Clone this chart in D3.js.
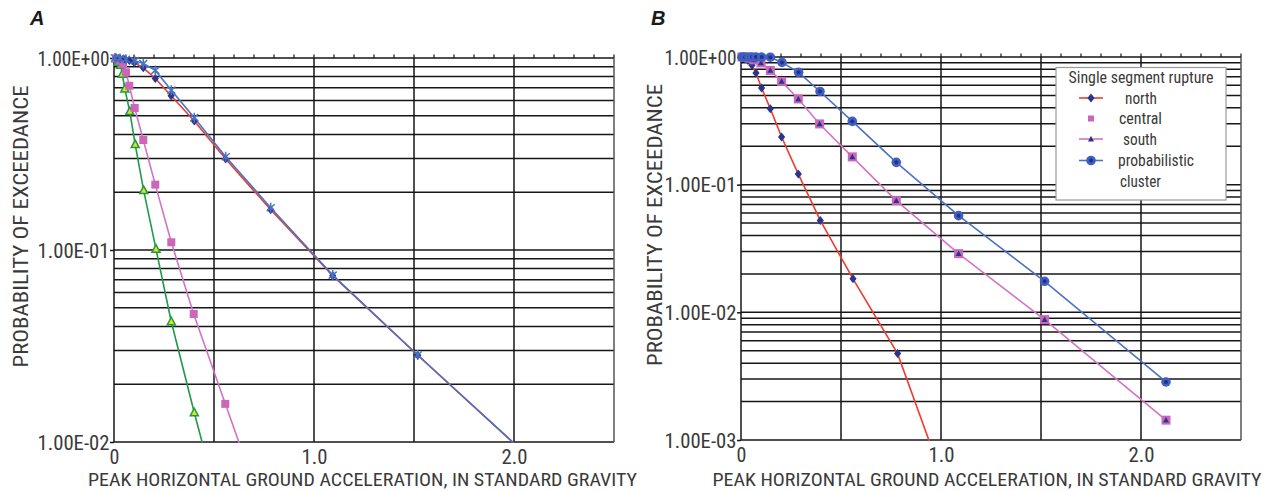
<!DOCTYPE html>
<html><head><meta charset="utf-8">
<script src="https://cdn.jsdelivr.net/npm/d3@7"></script>
<style>body{margin:0;background:#fff}</style></head>
<body><svg id="c" width="1270" height="491"></svg>
<script>
// ---------- tick labels ----------
const xTickValues = [0, 1.0, 2.0];
const xTickLabels = ["0", "1.0", "2.0"];
const yTickValuesA = [1, 0.1, 0.01];
const yTickLabelsA = ["1.00E+00", "1.00E-01", "1.00E-02"];
const yTickValuesB = [1, 0.1, 0.01, 0.001];
const yTickLabelsB = ["1.00E+00", "1.00E-01", "1.00E-02", "1.00E-03"];
const xTitle = "PEAK HORIZONTAL GROUND ACCELERATION, IN STANDARD GRAVITY";
const yTitle = "PROBABILITY OF EXCEEDANCE";
const legendTitle = "Single segment rupture";
const legendNames = ["north", "central", "south", "probabilistic", "cluster"];

// ---------- Panel A data ----------
const aGreenX = [0.01, 0.02, 0.0335, 0.0415, 0.054, 0.079, 0.106, 0.1485, 0.21, 0.2865, 0.4015, 0.56];
const aGreenY = [0.99, 0.95, 0.916, 0.823, 0.69, 0.526, 0.354, 0.204, 0.101, 0.0423, 0.0142, 0.0034];
const aPinkX = [0.01, 0.03, 0.045, 0.06, 0.0765, 0.1035, 0.1465, 0.2065, 0.2865, 0.3985, 0.5565, 0.78];
const aPinkY = [0.995, 0.97, 0.93, 0.842, 0.717, 0.549, 0.374, 0.219, 0.1097, 0.0464, 0.0158, 0.0035];
const aRedX = [0.01, 0.03, 0.055, 0.0765, 0.1015, 0.1465, 0.2065, 0.2855, 0.4015, 0.5585, 0.7835, 1.0935, 1.5185, 2.13];
const aRedY = [1.0, 0.995, 0.985, 0.97, 0.945, 0.889, 0.782, 0.636, 0.470, 0.298, 0.162, 0.0735, 0.0283, 0.0074];
const aBlueX = [0.005, 0.03, 0.06, 0.1035, 0.1465, 0.2065, 0.2865, 0.4015, 0.5585, 0.7835, 1.0935, 1.5185, 2.13];
const aBlueY = [1.0, 0.995, 0.985, 0.968, 0.935, 0.862, 0.68, 0.489, 0.306, 0.166, 0.074, 0.0284, 0.0074];

// ---------- Panel B data ----------
const bNorthX = [0.005, 0.02, 0.035, 0.055, 0.075, 0.103, 0.1465, 0.203, 0.2865, 0.3965, 0.56, 0.783, 1.09];
const bNorthY = [1.0, 0.98, 0.94, 0.86, 0.749, 0.572, 0.394, 0.236, 0.121, 0.0525, 0.0183, 0.00475, 0.000222];
const bCentralX = [0.005, 0.02, 0.04, 0.065, 0.1, 0.1465, 0.203, 0.2865, 0.393, 0.5565, 0.7765, 1.088, 1.518, 2.125];
const bCentralY = [1.0, 0.995, 0.98, 0.95, 0.898, 0.785, 0.644, 0.469, 0.299, 0.165, 0.075, 0.0288, 0.00877, 0.00143];
const bSouthX = [0.005, 0.02, 0.04, 0.065, 0.1, 0.1465, 0.203, 0.2865, 0.393, 0.5565, 0.7765, 1.088, 1.518, 2.125];
const bSouthY = [1.0, 0.995, 0.98, 0.95, 0.898, 0.785, 0.644, 0.469, 0.299, 0.165, 0.075, 0.0288, 0.00877, 0.00143];
const bClusterX = [0.005, 0.02, 0.04, 0.055, 0.075, 0.1035, 0.1465, 0.205, 0.288, 0.395, 0.5565, 0.7765, 1.088, 1.518, 2.125];
const bClusterY = [1.0, 1.0, 1.0, 1.0, 1.0, 0.999, 0.996, 0.907, 0.758, 0.537, 0.313, 0.1496, 0.0572, 0.0175, 0.00285];

// ---------- styles ----------
const FONT = "'Liberation Sans Narrow','Roboto Condensed','Liberation Sans',Arial,sans-serif";
const TXT = "#3a3a3a";
const GRID = "#161616";
const C_RED = "#ee3b2e", C_BLUE = "#4b72c4", C_PINK = "#d273c6", C_GREEN = "#1f9a4a";
const C_NAVY = "#27368c", C_SQ = "#cc66bb", C_YEL = "#e4e01c";

const svg = d3.select("#c");
const zip = (xs, ys) => xs.map((v, i) => [v, ys[i]]);

const markerFns = {
  diamond: (g) => g.append("path").attr("d", "M0,-4.5L3.6,0L0,4.5L-3.6,0Z").attr("fill", C_NAVY),
  square: (g) => g.append("rect").attr("x", -4).attr("y", -4).attr("width", 8).attr("height", 8).attr("fill", C_SQ),
  squareB: (g) => g.append("rect").attr("x", -4.5).attr("y", -4.5).attr("width", 9).attr("height", 9).attr("fill", C_SQ),
  triGreen: (g) => g.append("path").attr("d", "M0,-4.5L4,3L-4,3Z").attr("fill", C_YEL).attr("stroke", C_GREEN).attr("stroke-width", 1.5),
  triNavy: (g) => g.append("path").attr("d", "M0,-3.2L3,2.4L-3,2.4Z").attr("fill", C_NAVY),
  star: (g) => g.append("path").attr("d", "M-4,-3.5L4,3.5M-4,3.5L4,-3.5M0,-5L0,5").attr("stroke", C_BLUE).attr("stroke-width", 1.5).attr("fill", "none"),
  circle: (g) => { g.append("circle").attr("r", 4.8).attr("fill", "#3f60c2"); g.append("circle").attr("r", 2).attr("fill", "#25308a"); }
};

function panel(o) {
  const x = d3.scaleLinear().domain([0, 2.5]).range([o.left, o.right]);
  const y = d3.scaleLog().domain([o.ymin, 1]).range([o.bottom, o.top]);
  const g = svg.append("g");
  const clipId = "clip" + o.id;
  svg.append("clipPath").attr("id", clipId).append("rect")
    .attr("x", o.left).attr("y", o.top - 1).attr("width", o.right - o.left).attr("height", o.bottom - o.top + 2);

  // horizontal grid
  g.append("g").selectAll("line").data(y.ticks()).join("line")
    .attr("x1", o.left).attr("x2", o.right).attr("y1", d => y(d)).attr("y2", d => y(d))
    .attr("stroke", GRID).attr("stroke-width", 1.5);
  // vertical grid
  g.append("g").selectAll("line").data([0, 0.5, 1, 1.5, 2, 2.5]).join("line")
    .attr("x1", d => x(d)).attr("x2", d => x(d)).attr("y1", o.top).attr("y2", o.bottom)
    .attr("stroke", d => d === 2.5 ? "#555" : GRID).attr("stroke-width", 1.5);
  // top minor ticks
  g.append("g").selectAll("line").data(d3.range(0, 26).map(i => i / 10)).join("line")
    .attr("x1", d => x(d)).attr("x2", d => x(d)).attr("y1", o.top).attr("y2", o.top - 3.5)
    .attr("stroke", GRID).attr("stroke-width", 1.2);

  // axes (labels only)
  const ya = g.append("g").attr("transform", `translate(${o.left},0)`)
    .call(d3.axisLeft(y).tickValues(o.yTicks).tickFormat((d, i) => o.yLabels[i]).tickSize(4));
  ya.select(".domain").remove();
  ya.selectAll("line").attr("stroke", GRID).attr("stroke-width", 1.5);
  ya.selectAll("text").attr("x", -4.5).attr("dy", "0.36em").attr("fill", TXT)
    .style("font-family", FONT).style("font-size", "20px").attr("textLength", 72).attr("lengthAdjust", "spacingAndGlyphs");

  const xa = g.append("g").attr("transform", `translate(0,${o.bottom})`)
    .call(d3.axisBottom(x).tickValues(xTickValues).tickFormat((d, i) => xTickLabels[i]).tickSize(0));
  xa.select(".domain").remove();
  xa.selectAll("text").attr("y", 5).attr("dy", "0.85em").attr("fill", TXT)
    .style("font-family", FONT).style("font-size", "20px")
    .each(function (d, i) { if (i > 0) d3.select(this).attr("textLength", 26).attr("lengthAdjust", "spacingAndGlyphs"); });

  // titles
  g.append("text").attr("x", o.xTitleX).attr("y", 486).attr("text-anchor", "middle").attr("fill", TXT)
    .style("font-family", FONT).style("font-size", "19px")
    .attr("textLength", 549).attr("lengthAdjust", "spacingAndGlyphs").text(xTitle);
  g.append("text").attr("transform", `translate(${o.yTitleX},${o.yTitleY}) rotate(-90)`).attr("text-anchor", "middle").attr("fill", TXT)
    .style("font-family", FONT).style("font-size", "20px")
    .attr("textLength", 282).attr("lengthAdjust", "spacingAndGlyphs").text(yTitle);
  g.append("text").attr("x", o.labelX).attr("y", 25).attr("fill", "#1a1a1a")
    .style("font-family", "'Liberation Sans',Arial,sans-serif").style("font-size", "20px")
    .style("font-weight", "bold").style("font-style", "italic").text(o.label);

  const line = d3.line().x(d => x(d[0])).y(d => y(d[1]));
  const lg = g.append("g").attr("clip-path", `url(#${clipId})`);
  o.series.forEach(s => {
    if (s.line) lg.append("path").datum(zip(s.x, s.y)).attr("d", line)
      .attr("fill", "none").attr("stroke", s.color).attr("stroke-width", 1.6);
  });
  o.series.forEach(s => {
    const pts = zip(s.x, s.y).filter(d => d[1] >= o.ymin && d[0] <= 2.5);
    pts.forEach(d => {
      const mg = g.append("g").attr("transform", `translate(${x(d[0])},${y(d[1])})`);
      markerFns[s.marker](mg);
    });
  });
}

panel({
  id: "A", label: "A", labelX: 30, left: 114, right: 614, top: 58, bottom: 442, ymin: 0.01,
  yTicks: yTickValuesA, yLabels: yTickLabelsA, xTitleX: 362.5, yTitleX: 28, yTitleY: 226.5,
  series: [
    { x: aGreenX, y: aGreenY, color: C_GREEN, line: true, marker: "triGreen" },
    { x: aPinkX, y: aPinkY, color: C_PINK, line: true, marker: "square" },
    { x: aRedX, y: aRedY, color: C_RED, line: true, marker: "diamond" },
    { x: aBlueX, y: aBlueY, color: C_BLUE, line: true, marker: "star" }
  ]
});

panel({
  id: "B", label: "B", labelX: 651, left: 741, right: 1241, top: 57, bottom: 440, ymin: 0.001,
  yTicks: yTickValuesB, yLabels: yTickLabelsB, xTitleX: 987, yTitleX: 662, yTitleY: 225,
  series: [
    { x: bNorthX, y: bNorthY, color: C_RED, line: true, marker: "diamond" },
    { x: bSouthX, y: bSouthY, color: C_PINK, line: true, marker: "squareB" },
    { x: bCentralX, y: bCentralY, color: C_PINK, line: false, marker: "triNavy" },
    { x: bClusterX, y: bClusterY, color: C_BLUE, line: true, marker: "circle" }
  ]
});

// ---------- legend (panel B) ----------
const lgd = svg.append("g");
lgd.append("rect").attr("x", 1056).attr("y", 67.5).attr("width", 170).attr("height", 132.5)
  .attr("fill", "#fff").attr("stroke", "#9a9a9a").attr("stroke-width", 1.2);
lgd.append("text").attr("x", 1141).attr("y", 83).attr("text-anchor", "middle").attr("fill", TXT)
  .style("font-family", FONT).style("font-size", "16px")
  .attr("textLength", 145).attr("lengthAdjust", "spacingAndGlyphs").text(legendTitle);
const rows = [
  { y: 98, line: C_RED, marker: "diamond", text: legendNames[0], tx: 1125, tl: 32 },
  { y: 118.5, line: null, marker: "square", text: legendNames[1], tx: 1119, tl: 43 },
  { y: 139, line: C_PINK, marker: "triNavy", text: legendNames[2], tx: 1123, tl: 34 },
  { y: 160.5, line: C_BLUE, marker: "circle", text: legendNames[3], tx: 1118, tl: 76 },
  { y: 181, line: null, marker: null, text: legendNames[4], tx: 1120, tl: 41 }
];
rows.forEach(r => {
  if (r.line) lgd.append("line").attr("x1", 1079).attr("x2", 1103).attr("y1", r.y).attr("y2", r.y)
    .attr("stroke", r.line).attr("stroke-width", 1.6);
  if (r.marker) {
    const mg = lgd.append("g").attr("transform", `translate(1091,${r.y})`);
    if (r.marker === "square") mg.append("rect").attr("x", -3).attr("y", -3).attr("width", 6).attr("height", 6).attr("fill", C_SQ);
    else markerFns[r.marker](mg);
  }
  lgd.append("text").attr("x", r.tx).attr("y", r.y + 5.5).attr("fill", TXT)
    .style("font-family", FONT).style("font-size", "16px")
    .attr("textLength", r.tl).attr("lengthAdjust", "spacingAndGlyphs").text(r.text);
});
</script>
</body></html>
